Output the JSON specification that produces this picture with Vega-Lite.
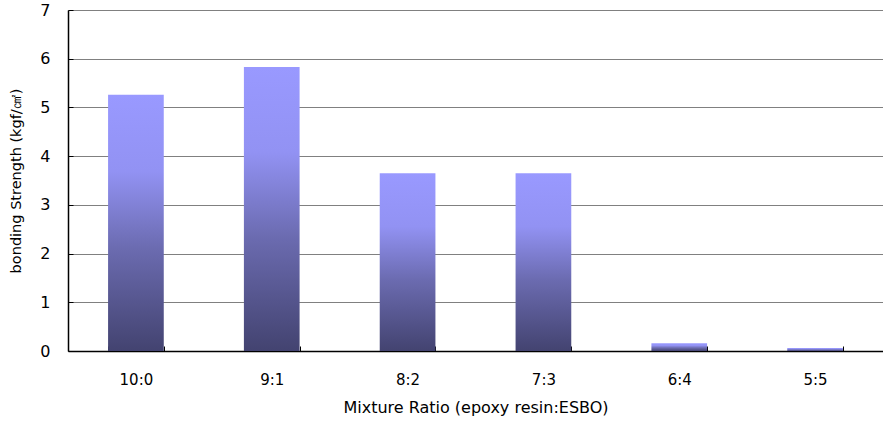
{
  "$schema": "https://vega.github.io/schema/vega-lite/v6.json",
  "width": 815,
  "height": 341,
  "autosize": {"type": "none"},
  "padding": {"left": 68, "top": 10, "right": 0, "bottom": 70},
  "background": "white",
  "data": {
    "values": [
      {"ratio": "10:0", "strength": 5.26},
      {"ratio": "9:1", "strength": 5.83},
      {"ratio": "8:2", "strength": 3.65},
      {"ratio": "7:3", "strength": 3.65},
      {"ratio": "6:4", "strength": 0.16},
      {"ratio": "5:5", "strength": 0.06}
    ]
  },
  "config": {
    "view": {"stroke": null},
    "font": "DejaVu Sans"
  },
  "mark": {
    "type": "bar",
    "color": {
      "gradient": "linear",
      "x1": 0, "y1": 0, "x2": 0, "y2": 1,
      "stops": [
        {"offset": 0, "color": "#9999ff"},
        {"offset": 0.3, "color": "#9292f3"},
        {"offset": 0.6, "color": "#6b6bb0"},
        {"offset": 1, "color": "#434370"}
      ]
    }
  },
  "encoding": {
    "x": {
      "field": "ratio",
      "type": "nominal",
      "sort": null,
      "scale": {"paddingInner": 0.59, "paddingOuter": 0.295},
      "axis": {
        "title": "Mixture Ratio (epoxy resin:ESBO)",
        "titleFont": "DejaVu Sans",
        "titleFontSize": 16,
        "titleFontWeight": "normal",
        "titleColor": "#000000",
        "titlePadding": 12,
        "labelFont": "DejaVu Sans",
        "labelAngle": 0,
        "labelFontSize": 15,
        "labelColor": "#000000",
        "labelPadding": 26,
        "domainColor": "#000000",
        "domainWidth": 1.5,
        "tickBand": "extent",
        "tickColor": "#000000",
        "tickSize": -5,
        "grid": false
      }
    },
    "y": {
      "field": "strength",
      "type": "quantitative",
      "scale": {"domain": [0, 7]},
      "axis": {
        "title": "bonding Strength (kgf/㎠)",
        "titleFont": "DejaVu Sans",
        "titleFontSize": 14.5,
        "titleFontWeight": "normal",
        "titleColor": "#000000",
        "titlePadding": 16,
        "values": [0, 1, 2, 3, 4, 5, 6, 7],
        "labelFont": "DejaVu Sans",
        "labelFontSize": 16,
        "labelColor": "#000000",
        "labelPadding": 23,
        "domainColor": "#000000",
        "domainWidth": 1.5,
        "tickColor": "#000000",
        "tickSize": -5,
        "grid": true,
        "gridColor": "#808080",
        "gridWidth": 1.2
      }
    }
  }
}
